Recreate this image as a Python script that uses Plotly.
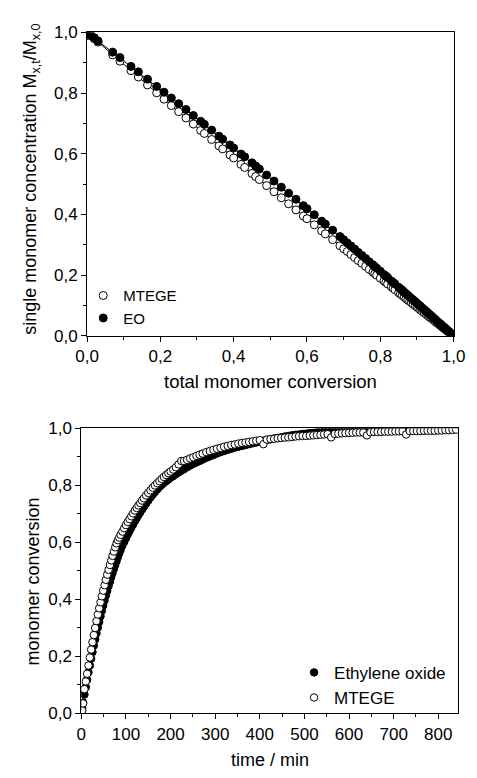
import plotly.graph_objects as go

# ---------------- top panel data ----------------
total_conv = [0.0, 0.01, 0.02, 0.03, 0.07, 0.09, 0.12, 0.14, 0.165, 0.19,
              0.21, 0.23, 0.25, 0.27, 0.29, 0.31, 0.32, 0.34, 0.36, 0.37,
              0.39, 0.40, 0.42, 0.43, 0.45, 0.46, 0.47, 0.49, 0.51, 0.53,
              0.55, 0.57, 0.59, 0.60, 0.62, 0.64, 0.65, 0.67, 0.69, 0.70,
              0.71, 0.72, 0.73, 0.74, 0.75, 0.76, 0.77, 0.78, 0.785, 0.79,
              0.80, 0.81, 0.815, 0.82, 0.83, 0.835, 0.84, 0.85, 0.855, 0.86,
              0.865, 0.87, 0.875, 0.88, 0.885, 0.89, 0.895, 0.90, 0.905, 0.91,
              0.915, 0.92, 0.925, 0.93, 0.935, 0.94, 0.945, 0.95, 0.955, 0.96,
              0.963, 0.966, 0.97, 0.973, 0.976, 0.979, 0.982, 0.985, 0.988, 0.99,
              0.992, 0.994, 0.996, 0.998, 1.0]
eo_rel = [1.0, 0.991, 0.982, 0.972, 0.935, 0.917, 0.888, 0.870, 0.846, 0.822,
          0.803, 0.784, 0.765, 0.746, 0.726, 0.707, 0.697, 0.678, 0.658, 0.648,
          0.629, 0.619, 0.599, 0.590, 0.570, 0.560, 0.550, 0.530, 0.510, 0.490,
          0.470, 0.450, 0.429, 0.419, 0.399, 0.378, 0.368, 0.348, 0.327, 0.317,
          0.306, 0.296, 0.286, 0.275, 0.265, 0.255, 0.244, 0.234, 0.228, 0.223,
          0.213, 0.202, 0.197, 0.192, 0.181, 0.176, 0.171, 0.160, 0.155, 0.150,
          0.144, 0.139, 0.134, 0.128, 0.123, 0.118, 0.113, 0.107, 0.102, 0.097,
          0.091, 0.086, 0.081, 0.075, 0.070, 0.065, 0.059, 0.054, 0.048, 0.043,
          0.040, 0.037, 0.032, 0.029, 0.026, 0.023, 0.019, 0.016, 0.013, 0.011,
          0.009, 0.006, 0.004, 0.002, 0.000]
mtege_rel = [0.990, 0.989, 0.979, 0.968, 0.926, 0.905, 0.874, 0.853, 0.827, 0.801,
             0.780, 0.759, 0.739, 0.718, 0.698, 0.677, 0.667, 0.647, 0.626, 0.616,
             0.596, 0.586, 0.565, 0.555, 0.535, 0.525, 0.515, 0.495, 0.475, 0.455,
             0.435, 0.415, 0.395, 0.386, 0.366, 0.346, 0.336, 0.317, 0.297, 0.287,
             0.278, 0.268, 0.258, 0.248, 0.239, 0.229, 0.219, 0.210, 0.205, 0.200,
             0.190, 0.181, 0.176, 0.171, 0.162, 0.157, 0.152, 0.142, 0.138, 0.133,
             0.128, 0.123, 0.118, 0.114, 0.109, 0.104, 0.099, 0.095, 0.090, 0.085,
             0.080, 0.076, 0.071, 0.066, 0.061, 0.057, 0.052, 0.047, 0.042, 0.038,
             0.035, 0.032, 0.028, 0.025, 0.023, 0.020, 0.017, 0.014, 0.011, 0.009,
             0.007, 0.005, 0.003, 0.001, 0.000]
fit_x = [0.0, 0.25, 0.5, 0.75, 1.0]
fit_eo = [1.0, 0.765, 0.52, 0.265, 0.0]
fit_mtege = [1.0, 0.738, 0.485, 0.238, 0.0]

# ---------------- bottom panel data ----------------
time_min = [0, 2, 4, 7, 10, 13, 16, 19, 22, 25, 28, 31, 34, 37, 40,
            43, 46, 49, 52, 55, 58, 61, 64, 67, 70, 73, 76, 79, 82, 85,
            88, 92, 96, 100, 104, 108, 112, 116, 120, 124, 128, 132, 136, 140, 145,
            150, 155, 160, 165, 170, 175, 180, 185, 190, 195, 200, 206, 212, 218, 224,
            230, 237, 244, 251, 258, 265, 272, 280, 288, 296, 304, 312, 320, 328, 336,
            344, 352, 360, 368, 376, 384, 392, 400, 408, 416, 424, 432, 440, 448, 456,
            464, 472, 480, 488, 496, 504, 512, 520, 528, 536, 544, 552, 560, 568, 576,
            584, 592, 600, 608, 616, 624, 632, 640, 648, 656, 664, 672, 680, 688, 696,
            704, 712, 720, 728, 736, 744, 752, 760, 768, 776, 784, 792, 800, 808, 816,
            824, 832, 840]
mtege_conv = [0.000, 0.010, 0.035, 0.085, 0.112, 0.139, 0.168, 0.196, 0.224, 0.250,
              0.275, 0.300, 0.324, 0.347, 0.369, 0.390, 0.411, 0.431, 0.450, 0.469,
              0.487, 0.504, 0.521, 0.537, 0.553, 0.568, 0.583, 0.597, 0.608, 0.617,
              0.627, 0.638, 0.650, 0.661, 0.672, 0.682, 0.692, 0.702, 0.712, 0.721,
              0.730, 0.738, 0.747, 0.755, 0.765, 0.774, 0.783, 0.792, 0.800, 0.808,
              0.815, 0.823, 0.830, 0.837, 0.843, 0.849, 0.856, 0.864, 0.874, 0.886,
              0.886, 0.890, 0.895, 0.899, 0.904, 0.908, 0.912, 0.917, 0.921, 0.925,
              0.929, 0.932, 0.936, 0.939, 0.942, 0.944, 0.947, 0.949, 0.951, 0.953,
              0.955, 0.957, 0.959, 0.945, 0.961, 0.963, 0.964, 0.966, 0.967, 0.968,
              0.969, 0.970, 0.972, 0.973, 0.974, 0.974, 0.975, 0.976, 0.977, 0.978,
              0.979, 0.980, 0.969, 0.981, 0.982, 0.983, 0.984, 0.985, 0.985, 0.986,
              0.986, 0.986, 0.976, 0.987, 0.988, 0.988, 0.988, 0.989, 0.989, 0.989,
              0.990, 0.990, 0.990, 0.979, 0.991, 0.991, 0.991, 0.991, 0.992, 0.992,
              0.992, 0.992, 0.993, 0.993, 0.994, 0.994, 0.995, 0.996]
eo_conv = [0.000, 0.019, 0.038, 0.066, 0.092, 0.118, 0.144, 0.168, 0.192, 0.215,
           0.238, 0.260, 0.281, 0.301, 0.321, 0.341, 0.360, 0.378, 0.396, 0.414,
           0.430, 0.447, 0.462, 0.478, 0.493, 0.507, 0.521, 0.535, 0.549, 0.562,
           0.574, 0.589, 0.602, 0.615, 0.628, 0.640, 0.652, 0.663, 0.675, 0.685,
           0.696, 0.706, 0.716, 0.725, 0.736, 0.747, 0.758, 0.768, 0.777, 0.786,
           0.795, 0.802, 0.809, 0.815, 0.821, 0.827, 0.833, 0.840, 0.846, 0.852,
           0.857, 0.864, 0.870, 0.876, 0.881, 0.886, 0.891, 0.897, 0.902, 0.907,
           0.912, 0.917, 0.921, 0.925, 0.929, 0.933, 0.936, 0.939, 0.942, 0.945,
           0.948, 0.951, 0.954, 0.957, 0.960, 0.962, 0.965, 0.967, 0.969, 0.972,
           0.974, 0.976, 0.978, 0.979, 0.981, 0.982, 0.984, 0.985, 0.987, 0.988,
           0.989, 0.990, 0.991, 0.992, 0.993, 0.994, 0.994, 0.995, 0.995, 0.996,
           0.996, 0.996, 0.997, 0.997, 0.997, 0.997, 0.998, 0.998, 0.998, 0.998,
           0.998, 0.998, 0.999, 0.999, 0.999, 0.999, 0.999, 0.999, 0.999, 0.999,
           1.000, 1.000, 1.000, 1.000, 1.000, 1.000, 1.000, 1.000]

# ---------------- layout helpers ----------------
W, H = 477, 778
FONT = "Arial, 'Liberation Sans', sans-serif"


def px(x):
    return x / W


def py(y):
    return 1 - y / H


open_marker = dict(symbol="circle", color="white", size=8,
                   line=dict(color="black", width=1))
filled_marker = dict(symbol="circle", color="black", size=8,
                     line=dict(color="black", width=1))

fig = go.Figure()

# top panel
fig.add_trace(go.Scatter(x=fit_x, y=fit_mtege, mode="lines", line=dict(color="black", width=1),
                         xaxis="x", yaxis="y", showlegend=False, hoverinfo="skip"))
fig.add_trace(go.Scatter(x=fit_x, y=fit_eo, mode="lines", line=dict(color="black", width=1),
                         xaxis="x", yaxis="y", showlegend=False, hoverinfo="skip"))
fig.add_trace(go.Scatter(x=total_conv, y=mtege_rel, mode="markers", name="MTEGE",
                         marker=open_marker, xaxis="x", yaxis="y", legend="legend"))
fig.add_trace(go.Scatter(x=total_conv, y=eo_rel, mode="markers", name="EO",
                         marker=filled_marker, xaxis="x", yaxis="y", legend="legend"))

# bottom panel
fig.add_trace(go.Scatter(x=time_min, y=eo_conv, mode="markers", name="Ethylene oxide",
                         marker=dict(filled_marker, size=7.5), xaxis="x2", yaxis="y2",
                         legend="legend2"))
fig.add_trace(go.Scatter(x=time_min, y=mtege_conv, mode="markers", name="MTEGE",
                         marker=dict(open_marker, size=7.5), xaxis="x2", yaxis="y2",
                         legend="legend2"))

axis_common = dict(showline=True, linecolor="black", linewidth=1, mirror=True,
                   ticks="outside", ticklen=5, tickwidth=1, tickcolor="black",
                   showgrid=False, zeroline=False,
                   tickfont=dict(family=FONT, size=17, color="black"))

fig.update_layout(
    width=W, height=H, autosize=False,
    margin=dict(l=0, r=0, t=0, b=0),
    paper_bgcolor="white", plot_bgcolor="white",
    separators=", ",
    font=dict(family=FONT, color="black"),
    xaxis=dict(axis_common, domain=[px(79), px(465)], range=[0, 1], anchor="y",
               tickmode="linear", tick0=0, dtick=0.2, tickformat=".1f",
               minor=dict(ticks="outside", ticklen=3, dtick=0.1, tickcolor="black")),
    yaxis=dict(axis_common, domain=[py(335), py(24)], range=[0, 1], anchor="x",
               tickmode="linear", tick0=0, dtick=0.2, tickformat=".1f",
               minor=dict(ticks="outside", ticklen=3, dtick=0.1, tickcolor="black")),
    xaxis2=dict(axis_common, domain=[px(73), px(470)], range=[0, 845], anchor="y2",
                tickmode="linear", tick0=0, dtick=100, tickformat="d",
                minor=dict(ticks="outside", ticklen=3, dtick=50, tickcolor="black")),
    yaxis2=dict(axis_common, domain=[py(722), py(430)], range=[0, 1.0], anchor="x2",
                tickmode="linear", tick0=0, dtick=0.2, tickformat=".1f",
                minor=dict(ticks="outside", ticklen=3, dtick=0.1, tickcolor="black")),
    legend=dict(x=px(75), y=py(277), xanchor="left", yanchor="top",
                bgcolor="rgba(0,0,0,0)", font=dict(family=FONT, size=15, color="black"),
                tracegroupgap=0, itemclick=False),
    legend2=dict(x=px(297), y=py(662), xanchor="left", yanchor="top",
                 bgcolor="rgba(0,0,0,0)", font=dict(family=FONT, size=17, color="black"),
                 tracegroupgap=0, itemclick=False),
    annotations=[
        dict(text="single monomer concentration M<sub>x,t</sub>/M<sub>x,0</sub>",
             x=px(21), y=py(174), xref="paper", yref="paper", textangle=-90,
             showarrow=False, xanchor="center", yanchor="middle",
             font=dict(family=FONT, size=18, color="black")),
        dict(text="total monomer conversion", x=px(272), y=py(382), xref="paper", yref="paper",
             showarrow=False, xanchor="center", yanchor="middle",
             font=dict(family=FONT, size=18.5, color="black")),
        dict(text="monomer conversion", x=px(22), y=py(587), xref="paper", yref="paper",
             textangle=-90, showarrow=False, xanchor="center", yanchor="middle",
             font=dict(family=FONT, size=18, color="black")),
        dict(text="time / min", x=px(271.5), y=py(770), xref="paper", yref="paper",
             showarrow=False, xanchor="center", yanchor="middle",
             font=dict(family=FONT, size=18, color="black")),
    ],
)

fig.write_html("out.html")
